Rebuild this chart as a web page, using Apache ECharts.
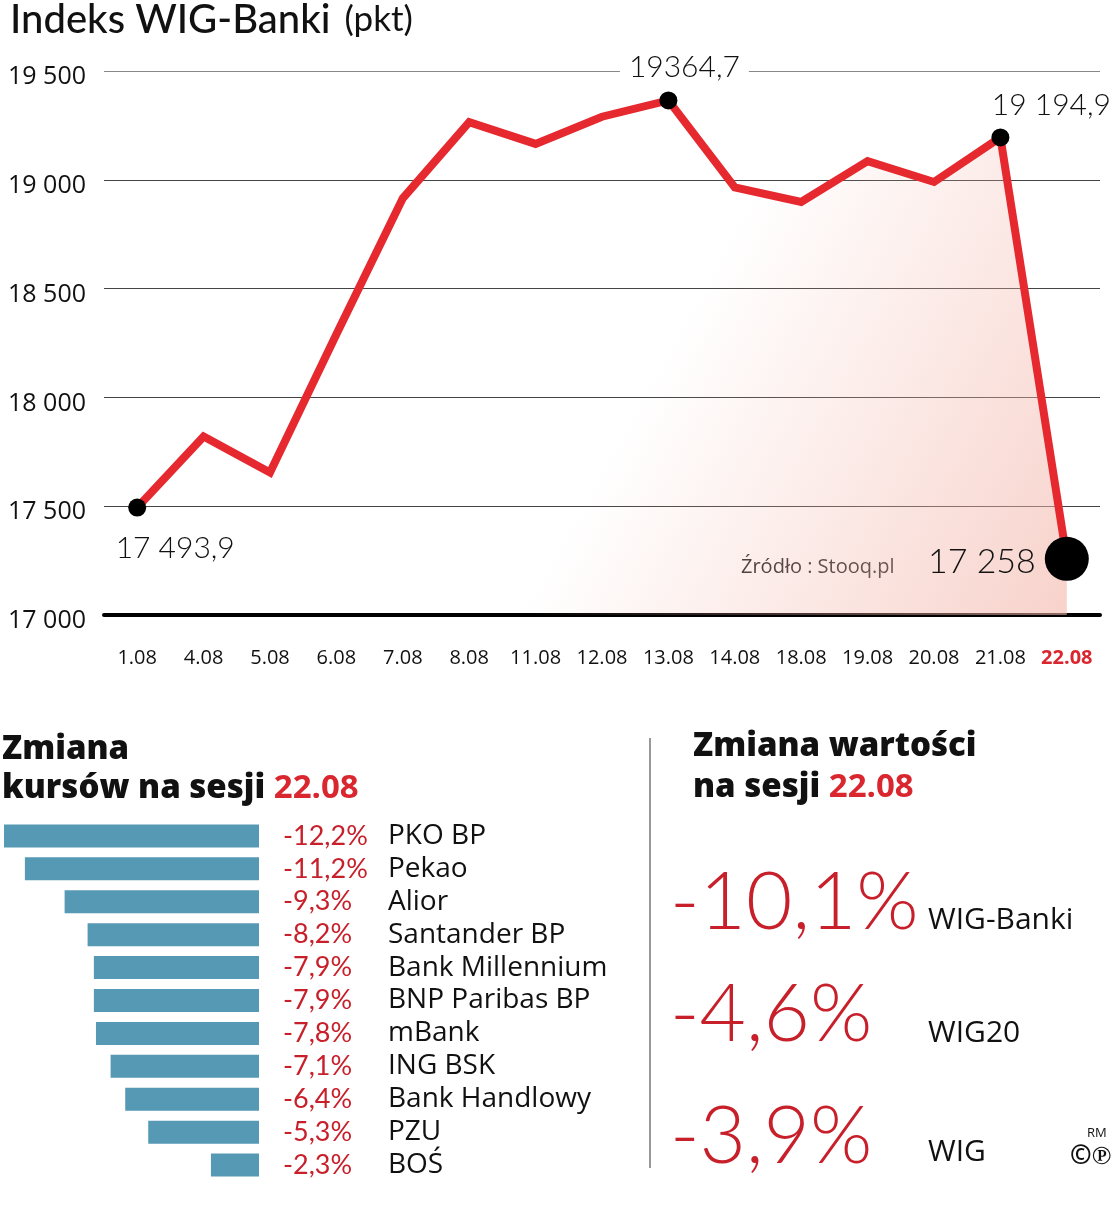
<!DOCTYPE html>
<html><head><meta charset="utf-8">
<script src="https://cdn.jsdelivr.net/npm/echarts@6/dist/echarts.min.js"></script>
<style>html,body{margin:0;padding:0;background:#fff}#c{width:1119px;height:1224px}</style>
</head><body><div id="c"></div>
<script>
// ---- data ----
const dates = ['1.08','4.08','5.08','6.08','7.08','8.08','11.08','12.08','13.08','14.08','18.08','19.08','20.08','21.08','22.08'];
const wigBanki = [17493.9, 17820, 17655, 18290, 18915, 19265, 19165, 19290, 19364.7, 18965, 18898, 19086, 18990, 19194.9, 17258];
const markedIdx = [0, 8, 13, 14];
const markedLabels = ['17 493,9', '19364,7', '19 194,9', '17 258'];
const sessionDate = '22.08';
const banks = ['PKO BP','Pekao','Alior','Santander BP','Bank Millennium','BNP Paribas BP','mBank','ING BSK','Bank Handlowy','PZU','BOŚ'];
const bankChanges = [-12.2, -11.2, -9.3, -8.2, -7.9, -7.9, -7.8, -7.1, -6.4, -5.3, -2.3];
const indexNames = ['WIG-Banki', 'WIG20', 'WIG'];
const indexChanges = [-10.1, -4.6, -3.9];

// ---- helpers / styles ----
const RED = '#e6282f';
const TXTRED = '#c8202b';
const F = 'Lato';
const O = '"Open Sans"';
const pct = v => (v < 0 ? '-' : '') + Math.abs(v).toFixed(1).replace('.', ',') + '%';
const thou = v => String(v).replace(/\B(?=(\d{3})+(?!\d))/g, ' ');

const labelStyles = [
  {position: 'bottom', offset: [38, 12], fontSize: 30},
  {position: 'top', offset: [16, -4], fontSize: 30, backgroundColor: '#fff', padding: [0, 9]},
  {position: 'top', offset: [51, -3], fontSize: 30},
  {position: 'left', offset: [-4, 3], fontSize: 34}
];

const lineData = wigBanki.map((v, i) => {
  const k = markedIdx.indexOf(i);
  if (k < 0) return {value: v, symbolSize: 0};
  return {
    value: v,
    symbolSize: i === wigBanki.length - 1 ? 44 : 18,
    label: Object.assign({show: true, formatter: markedLabels[k], color: '#111', fontFamily: F, fontWeight: 300}, labelStyles[k])
  };
});

const chart = echarts.init(document.getElementById('c'), null, {renderer: 'canvas'});

const graphic = [
  {type: 'text', x: 10, y: 20, style: {text: '{a|Indeks WIG-Banki}{b|(pkt)}', verticalAlign: 'middle', rich: {
    a: {font: '500 40px ' + F, fill: '#111'}, b: {font: '400 35px ' + F, fill: '#111', padding: [0, 0, 0, 14]}}}},
  {type: 'text', x: 741, y: 567, style: {text: 'Źródło : Stooq.pl', font: '400 20px ' + O, fill: '#222', verticalAlign: 'middle'}},
  // left heading
  {type: 'text', x: 2, y: 750, style: {text: 'Zmiana', font: '800 33px ' + O, fill: '#111', verticalAlign: 'middle'}},
  {type: 'text', x: 2, y: 789, style: {text: 'kursów na sesji {r|' + sessionDate + '}', font: '800 33px ' + O, fill: '#111', verticalAlign: 'middle',
    rich: {r: {font: '700 33px ' + O, fill: '#d9262f'}}}},
  // divider
  {type: 'line', shape: {x1: 650, y1: 738, x2: 650, y2: 1168}, style: {stroke: '#999', lineWidth: 2}},
  // right heading
  {type: 'text', x: 693, y: 747, style: {text: 'Zmiana wartości', font: '800 33px ' + O, fill: '#111', verticalAlign: 'middle'}},
  {type: 'text', x: 693, y: 788, style: {text: 'na sesji {r|' + sessionDate + '}', font: '800 33px ' + O, fill: '#111', verticalAlign: 'middle',
    rich: {r: {font: '700 33px ' + O, fill: '#d9262f'}}}},
  {type: 'text', x: 1087, y: 1133, style: {text: 'RM', font: '400 13px ' + O, fill: '#111', verticalAlign: 'middle'}},
  {type: 'text', x: 1070, y: 1157, style: {text: '©℗', font: '700 26px ' + O, fill: '#111', verticalAlign: 'middle'}}
];
const bigY = [903, 1015, 1137];
const nameY = [920, 1033, 1152];
indexChanges.forEach((v, i) => {
  graphic.push({type: 'text', x: 670, y: bigY[i], style: {text: pct(v), font: '300 80px ' + F, fill: TXTRED, verticalAlign: 'middle'}});
  graphic.push({type: 'text', x: 928, y: nameY[i], style: {text: indexNames[i], font: '400 30px ' + O, fill: '#111', verticalAlign: 'middle'}});
});

chart.setOption({
  animation: false,
  backgroundColor: '#fff',
  textStyle: {fontFamily: F},
  grid: [
    {left: 104, right: 19, top: 71, bottom: 609},
    {left: 4, right: 860, top: 819.5, bottom: 1224 - 1181.5}
  ],
  xAxis: [
    {type: 'category', gridIndex: 0, data: dates, boundaryGap: true,
     axisLine: {lineStyle: {color: '#000', width: 4}},
     axisTick: {alignWithLabel: true, interval: 0, length: 15, lineStyle: {color: '#555', width: 1.5}},
     axisLabel: {interval: 0, margin: 33, fontSize: 20, fontWeight: 500, color: '#111', fontFamily: O,
       formatter: v => v === sessionDate ? '{r|' + v + '}' : v,
       rich: {r: {color: '#d9262f', fontWeight: 700, fontSize: 20, fontFamily: O}}}},
    {type: 'value', gridIndex: 1, min: -12.2, max: 0, show: false}
  ],
  yAxis: [
    {type: 'value', gridIndex: 0, min: 17000, max: 19500, interval: 500,
     axisLine: {show: false}, axisTick: {show: false},
     axisLabel: {align: 'left', verticalAlign: 'top', lineHeight: 12, margin: 96, fontSize: 25, fontWeight: 500, color: '#111', fontFamily: O,
       formatter: v => thou(v)},
     splitLine: {lineStyle: {color: ['#000', '#444', '#444', '#444', '#444', '#888'], width: 1.2}}},
    {type: 'category', gridIndex: 1, data: banks, inverse: true, position: 'right',
     axisLine: {show: false}, axisTick: {show: false},
     axisLabel: {margin: 24, align: 'left', interval: 0,
       formatter: (v, i) => '{p|' + pct(bankChanges[i]) + '}{n|' + v + '}',
       rich: {p: {color: TXTRED, fontSize: 27, fontFamily: F, width: 105},
              n: {color: '#111', fontSize: 28, fontFamily: O}}}}
  ],
  series: [
    {type: 'line', xAxisIndex: 0, yAxisIndex: 0, data: lineData,
     symbol: 'circle', showAllSymbol: true,
     itemStyle: {color: '#000'},
     lineStyle: {color: RED, width: 8, join: 'miter'},
     areaStyle: {origin: 'start', color: new echarts.graphic.LinearGradient(0, 0, 1, 1, [
       {offset: 0, color: 'rgba(243,180,168,0)'},
       {offset: 0.55, color: 'rgba(243,180,168,0)'},
       {offset: 1, color: 'rgba(243,180,168,0.85)'}])},
     z: 3},
    {type: 'bar', xAxisIndex: 1, yAxisIndex: 1, data: bankChanges, barWidth: 23,
     itemStyle: {color: '#5699b4'}}
  ],
  graphic: graphic
});
</script>
</body></html>
